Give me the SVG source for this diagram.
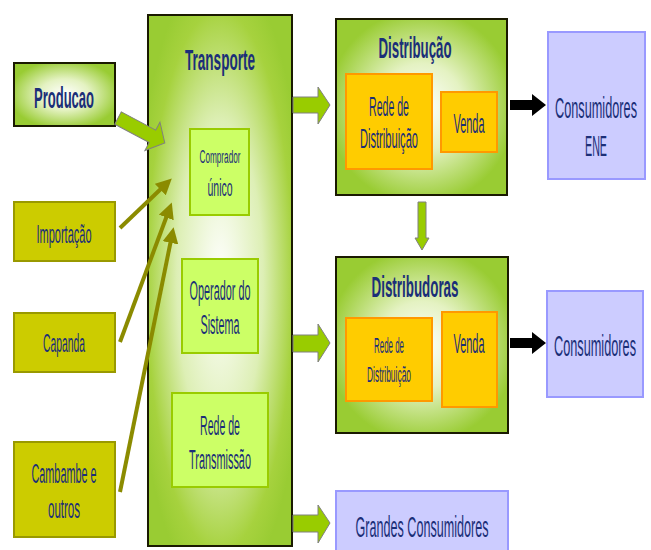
<svg xmlns="http://www.w3.org/2000/svg" width="651" height="550" viewBox="0 0 651 550">
<defs>
<radialGradient id="gglow" cx="0.5" cy="0.5" r="0.55">
<stop offset="0" stop-color="#FFFFFF"/>
<stop offset="0.45" stop-color="#E4F2C2"/>
<stop offset="1" stop-color="#99CC33"/>
</radialGradient>
<radialGradient id="gtall" cx="0.5" cy="0.5" r="0.6" fx="0.5" fy="0.5">
<stop offset="0" stop-color="#FFFFFF"/>
<stop offset="0.5" stop-color="#DDEFB5"/>
<stop offset="0.85" stop-color="#A6D23E"/>
<stop offset="1" stop-color="#99CC33"/>
</radialGradient>
<marker id="olive" markerWidth="4" markerHeight="4" refX="2" refY="2" orient="auto" markerUnits="strokeWidth">
<path d="M0,0 L4,2 L0,4 Z" fill="#8B8B00"/>
</marker>
<style>
.t{font-family:"Liberation Sans Narrow","Liberation Sans",Arial,sans-serif;fill:#1B2F78;text-anchor:middle}
.b{font-weight:bold}
.olv{fill:#CCCC00;stroke:#999900;stroke-width:2}
.inn{fill:#CCFF66;stroke:#99CC00;stroke-width:2}
.org{fill:#FFCC00;stroke:#FF9900;stroke-width:2}
.cons{fill:#CCCCFF;stroke:#9999FF;stroke-width:2}
.grn{fill:url(#gglow);stroke:#1A1A00;stroke-width:2}
.barrow{fill:#99CC00;stroke:#808080;stroke-width:1}
.line{stroke:#8B8B00;stroke-width:4;fill:none;marker-end:url(#olive)}
</style>
</defs>

<g id="transporte">
<rect x="148" y="15" width="144" height="531" fill="url(#gtall)" stroke="#1A1A00" stroke-width="2"/>
<text class="t b" x="220" y="70" font-size="30" textLength="70" lengthAdjust="spacingAndGlyphs">Transporte</text>
</g>
<g id="comprador">
<rect class="inn" x="190" y="129" width="59" height="86"/>
<text class="t" x="220" y="163" font-size="18" textLength="41" lengthAdjust="spacingAndGlyphs">Comprador</text>
<text class="t" x="220" y="196" font-size="23" textLength="25" lengthAdjust="spacingAndGlyphs">único</text>
</g>
<g id="operador">
<rect class="inn" x="182" y="259" width="76" height="94"/>
<text class="t" x="220" y="300" font-size="27" textLength="61" lengthAdjust="spacingAndGlyphs">Operador do</text>
<text class="t" x="220" y="334" font-size="27" textLength="39" lengthAdjust="spacingAndGlyphs">Sistema</text>
</g>
<g id="rede-transmissao">
<rect class="inn" x="172" y="393" width="96" height="94"/>
<text class="t" x="220" y="435" font-size="27" textLength="40" lengthAdjust="spacingAndGlyphs">Rede de</text>
<text class="t" x="220" y="469" font-size="27" textLength="62" lengthAdjust="spacingAndGlyphs">Transmissão</text>
</g>

<g id="producao">
<rect x="14" y="63" width="101" height="63" fill="url(#gglow)" stroke="#1A1A00" stroke-width="2"/>
<text class="t b" x="64" y="108" font-size="30" textLength="60" lengthAdjust="spacingAndGlyphs">Producao</text>
</g>
<g id="importacao">
<rect class="olv" x="14" y="202" width="101" height="59"/>
<text class="t" x="64" y="243" font-size="25" textLength="55" lengthAdjust="spacingAndGlyphs">Importação</text>
</g>
<g id="capanda">
<rect class="olv" x="14" y="313" width="101" height="59"/>
<text class="t" x="64" y="352" font-size="26" textLength="42" lengthAdjust="spacingAndGlyphs">Capanda</text>
</g>
<g id="cambambe">
<rect class="olv" x="14" y="442" width="101" height="95"/>
<text class="t" x="64" y="483" font-size="27" textLength="65" lengthAdjust="spacingAndGlyphs">Cambambe e</text>
<text class="t" x="64" y="518" font-size="27" textLength="32" lengthAdjust="spacingAndGlyphs">outros</text>
</g>

<g id="distribucao">
<rect class="grn" x="336" y="19" width="171" height="176"/>
<text class="t b" x="415" y="58" font-size="30" textLength="73" lengthAdjust="spacingAndGlyphs">Distribução</text>
</g>
<g id="rede-dist-1">
<rect class="org" x="346" y="74" width="86" height="95"/>
<text class="t" x="389" y="116" font-size="27" textLength="40" lengthAdjust="spacingAndGlyphs">Rede de</text>
<text class="t" x="389" y="148" font-size="27" textLength="58" lengthAdjust="spacingAndGlyphs">Distribuição</text>
</g>
<g id="venda-1">
<rect class="org" x="441" y="92" width="56" height="60"/>
<text class="t" x="469" y="133" font-size="28" textLength="31" lengthAdjust="spacingAndGlyphs">Venda</text>
</g>
<g id="consumidores-ene">
<rect class="cons" x="548" y="32" width="97" height="147"/>
<text class="t" x="596" y="118" font-size="30" textLength="82" lengthAdjust="spacingAndGlyphs">Consumidores</text>
<text class="t" x="596" y="156" font-size="30" textLength="22" lengthAdjust="spacingAndGlyphs">ENE</text>
</g>

<g id="distribudoras">
<rect class="grn" x="336" y="257" width="172" height="176"/>
<text class="t b" x="415" y="297" font-size="30" textLength="87" lengthAdjust="spacingAndGlyphs">Distribudoras</text>
</g>
<g id="rede-dist-2">
<rect class="org" x="346" y="318" width="86" height="83"/>
<text class="t" x="389" y="353" font-size="22" textLength="30" lengthAdjust="spacingAndGlyphs">Rede de</text>
<text class="t" x="389" y="382" font-size="22" textLength="44" lengthAdjust="spacingAndGlyphs">Distribuição</text>
</g>
<g id="venda-2">
<rect class="org" x="442" y="312" width="55" height="95"/>
<text class="t" x="469" y="353" font-size="28" textLength="31" lengthAdjust="spacingAndGlyphs">Venda</text>
</g>
<g id="consumidores">
<rect class="cons" x="547" y="291" width="96" height="106"/>
<text class="t" x="595" y="356" font-size="30" textLength="82" lengthAdjust="spacingAndGlyphs">Consumidores</text>
</g>
<g id="grandes-consumidores">
<rect class="cons" x="336" y="491" width="172" height="70"/>
<text class="t" x="422" y="537" font-size="29" textLength="133" lengthAdjust="spacingAndGlyphs">Grandes Consumidores</text>
</g>

<g id="connectors">
<path class="barrow" d="M0,-7 L39,-7 L39,-16 L53,0 L39,16 L39,7 L0,7 Z" transform="translate(118,118) rotate(28)"/>
<line class="line" x1="120" y1="228" x2="166" y2="184"/>
<line class="line" x1="120" y1="342" x2="169" y2="210"/>
<line class="line" x1="120" y1="492" x2="172" y2="235"/>
<path class="barrow" d="M293,97 L318,97 L318,87 L330,105 L318,124 L318,113 L293,113 Z"/>
<path class="barrow" d="M293,335 L318,335 L318,324 L330,343 L318,362 L318,352 L293,352 Z"/>
<path class="barrow" d="M293,515 L318,515 L318,505 L330,523 L318,543 L318,532 L293,532 Z"/>
<path class="barrow" d="M418,202 L426,202 L426,238 L429,238 L422,250 L415,238 L418,238 Z"/>
<path d="M510,100 L532,100 L532,94 L546,105 L532,116 L532,110 L510,110 Z" fill="#000"/>
<path d="M510,338 L532,338 L532,332 L546,343 L532,354 L532,348 L510,348 Z" fill="#000"/>
</g>
</svg>
